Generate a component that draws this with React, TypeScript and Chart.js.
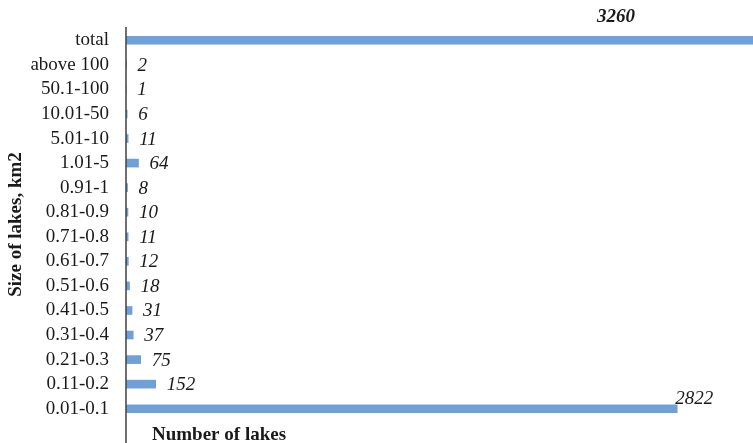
import React, { useEffect, useRef } from "react";
import { Chart, registerables } from "chart.js";

Chart.register(...registerables);

const categories = [
  "total", "above 100", "50.1-100", "10.01-50", "5.01-10", "1.01-5", "0.91-1",
  "0.81-0.9", "0.71-0.8", "0.61-0.7", "0.51-0.6", "0.41-0.5", "0.31-0.4",
  "0.21-0.3", "0.11-0.2", "0.01-0.1",
];
const lakeCounts = [3260, 2, 1, 6, 11, 64, 8, 10, 11, 12, 18, 31, 37, 75, 152, 2822];
const valueLabels = ["3260", "2", "1", "6", "11", "64", "8", "10", "11", "12", "18", "31", "37", "75", "152", "2822"];
const xTitle = "Number of lakes";
const yTitle = "Size of lakes, km2";
const xMax = 3210;

const SERIF = "'Liberation Serif', 'Times New Roman', serif";

const labelsPlugin = {
  id: "valueLabels",
  afterDatasetsDraw(chart: any) {
    const ctx = chart.ctx;
    const meta = chart.getDatasetMeta(0);
    const area = chart.chartArea;
    ctx.save();
    ctx.fillStyle = "#1a1a1a";
    meta.data.forEach((bar: any, i: number) => {
      const label = valueLabels[i];
      if (i === 0) {
        ctx.font = `italic bold 19px ${SERIF}`;
        ctx.textAlign = "center";
        ctx.textBaseline = "middle";
        ctx.fillText(label, area.right - 137, bar.y - 23);
      } else if (i === meta.data.length - 1) {
        ctx.font = `italic 19px ${SERIF}`;
        ctx.textAlign = "left";
        ctx.textBaseline = "alphabetic";
        ctx.fillText(label, bar.x - 2, bar.y - 5);
      } else {
        ctx.font = `italic 19px ${SERIF}`;
        ctx.textAlign = "left";
        ctx.textBaseline = "middle";
        ctx.fillText(label, bar.x + 11, bar.y + 1);
      }
    });
    ctx.restore();
  },
  afterDraw(chart: any) {
    const ctx = chart.ctx;
    const area = chart.chartArea;
    ctx.save();
    ctx.strokeStyle = "#404040";
    ctx.lineWidth = 1.5;
    ctx.beginPath();
    ctx.moveTo(area.left, area.top - 1);
    ctx.lineTo(area.left, chart.height);
    ctx.stroke();
    ctx.fillStyle = "#1a1a1a";
    ctx.font = `bold 19px ${SERIF}`;
    ctx.textAlign = "left";
    ctx.textBaseline = "alphabetic";
    ctx.fillText(xTitle, area.left + 26, chart.height - 3);
    ctx.restore();
  },
};

export default function App() {
  const ref = useRef<HTMLCanvasElement>(null);
  useEffect(() => {
    document.body.style.margin = "0";
    const chart = new Chart(ref.current!, {
      type: "bar",
      data: {
        labels: categories,
        datasets: [
          {
            data: lakeCounts,
            backgroundColor: "#6fa1d8",
            borderWidth: 0,
            barThickness: 8,
          },
        ],
      },
      options: {
        indexAxis: "y",
        animation: false,
        responsive: false,
        maintainAspectRatio: false,
        layout: { padding: { top: 28, bottom: 22, left: 0, right: 0 } },
        plugins: { legend: { display: false }, tooltip: { enabled: false } },
        scales: {
          x: {
            display: false,
            min: 0,
            max: xMax,
          },
          y: {
            grid: { display: false, drawTicks: false },
            border: { display: false },
            ticks: {
              color: "#1a1a1a",
              font: { family: SERIF, size: 19 },
              padding: 17,
              autoSkip: false,
            },
            title: {
              display: true,
              text: yTitle,
              color: "#1a1a1a",
              font: { family: SERIF, size: 19, weight: "bold" },
              padding: { top: 5, bottom: 0 },
            },
            afterFit(scale: any) {
              scale.width = 126;
              scale.paddingTop = 0;
              scale.paddingBottom = 0;
            },
          },
        },
      },
      plugins: [labelsPlugin],
    } as any);
    return () => chart.destroy();
  }, []);
  return <canvas ref={ref} width={753} height={443} style={{ display: "block" }} />;
}
